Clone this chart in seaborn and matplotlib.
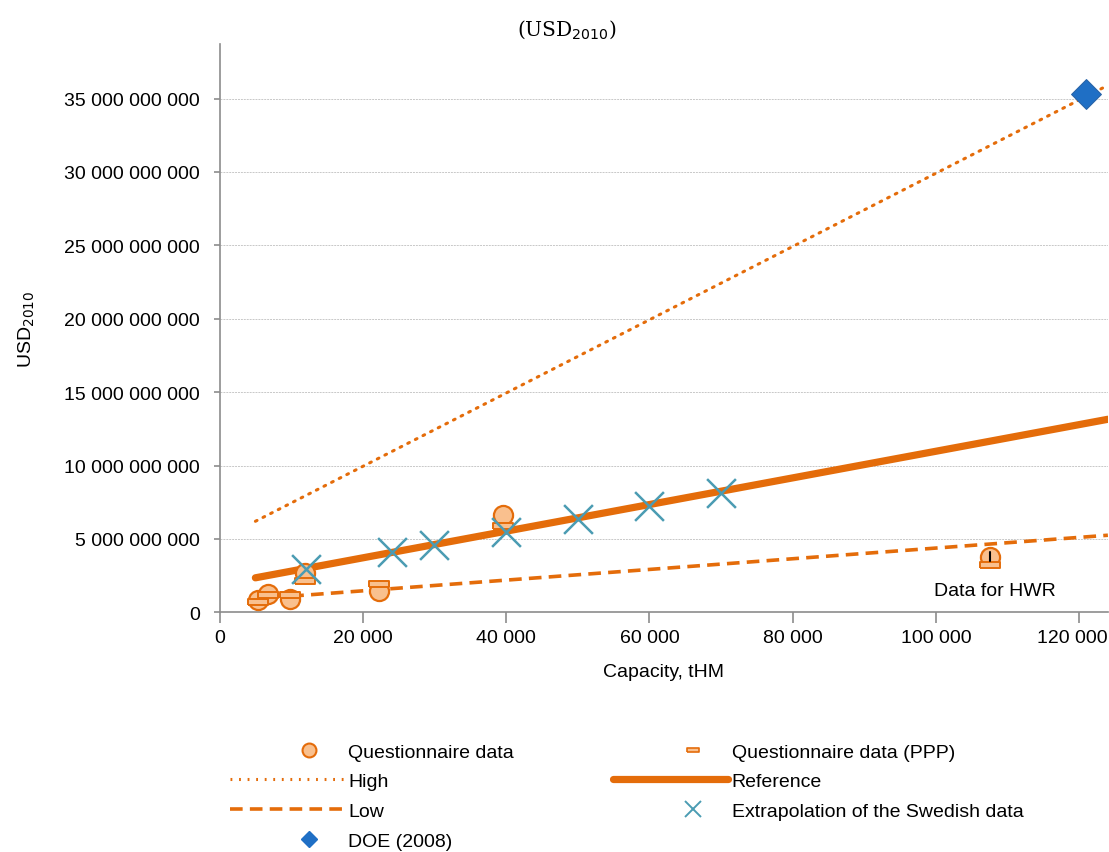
import matplotlib
matplotlib.use("Agg")
import matplotlib.pyplot as plt
import matplotlib.ticker as mticker
import matplotlib.transforms as mtransforms
from matplotlib.lines import Line2D
from matplotlib.legend_handler import HandlerLine2D
import numpy as np
import pandas as pd
import seaborn as sns

# ---- data (capacity in tHM, cost in USD 2010) ----
quest_x = [5300, 6700, 9800, 11900, 22200, 39500, 107500]
quest_y = [0.82e9, 1.25e9, 0.90e9, 2.70e9, 1.45e9, 6.60e9, 3.80e9]

ppp_x = [5300, 6700, 9800, 11900, 22200, 39500, 107500]
ppp_y = [0.70e9, 1.20e9, 1.20e9, 2.15e9, 1.95e9, 5.85e9, 3.20e9]

swedish_x = [12000, 24000, 30000, 40000, 50000, 60000, 70000]
swedish_y = [2.93e9, 4.10e9, 4.60e9, 5.45e9, 6.35e9, 7.25e9, 8.15e9]

doe_x = [121000]
doe_y = [35.3e9]

high_x = [5000, 124000]
high_y = [6.2e9, 35.9e9]

ref_x = [5000, 124000]
ref_y = [2.35e9, 13.15e9]

low_x = [10000, 124000]
low_y = [1.10e9, 5.25e9]

hwr_x = 107500
hwr_y = 3.80e9

x_ticks = [0, 20000, 40000, 60000, 80000, 100000, 120000]
y_ticks = [0, 5e9, 10e9, 15e9, 20e9, 25e9, 30e9, 35e9]

ORANGE = "#e46c0a"
LIGHT = "#f9c08e"
TEAL = "#4b9cb3"
BLUE = "#1f6fc5"
FS = 14

sns.set_theme(style="white")
plt.rcParams["font.family"] = ["Liberation Sans", "DejaVu Sans"]
plt.rcParams["text.color"] = "black"
plt.rcParams["axes.labelcolor"] = "black"

fig = plt.figure(figsize=(11.09, 8.53), dpi=100)
ax = fig.add_axes([0.198, 0.281, 0.801, 0.666])

sns.lineplot(x=high_x, y=high_y, ax=ax, color=ORANGE, lw=2.2,
             linestyle=(0, (0.6, 2.2)), dash_capstyle="round", zorder=2)
sns.lineplot(x=low_x, y=low_y, ax=ax, color=ORANGE, lw=2.6,
             linestyle=(0, (3.5, 2.0)), zorder=2)
sns.lineplot(x=ref_x, y=ref_y, ax=ax, color=ORANGE, lw=5.2,
             solid_capstyle="round", zorder=2)

ppp_marker = [(-1, -0.35), (1, -0.35), (1, 0.35), (-1, 0.35), (-1, -0.35)]

sns.scatterplot(x=quest_x, y=quest_y, ax=ax, s=190, color=LIGHT,
                edgecolor=ORANGE, linewidth=1.6, zorder=3)
sns.scatterplot(x=ppp_x, y=ppp_y, ax=ax, s=190, marker=ppp_marker,
                color=LIGHT, edgecolor=ORANGE, linewidth=1.4, zorder=3)
sns.scatterplot(x=swedish_x, y=swedish_y, ax=ax, s=430, marker="x",
                color=TEAL, linewidth=1.8, zorder=4)
sns.scatterplot(x=doe_x, y=doe_y, ax=ax, s=230, marker="D",
                color=BLUE, edgecolor="#2a64a8", linewidth=0.8, zorder=4)

# small range bar on the HWR point
ax.plot([hwr_x, hwr_x], [hwr_y - 0.32e9, hwr_y + 0.32e9], color="black",
        lw=1.5, zorder=5)
ax.text(hwr_x + 700, 1.5e9, "Data for HWR", ha="center", va="center",
        fontsize=FS, color="black")

ax.set_xlim(0, 124000)
ax.set_ylim(0, 38.7e9)
ax.set_xticks(x_ticks)
ax.set_yticks(y_ticks)

def spaced(v, _pos=None):
    return f"{int(round(v)):,}".replace(",", " ")

ax.xaxis.set_major_formatter(mticker.FuncFormatter(spaced))
ax.yaxis.set_major_formatter(mticker.FuncFormatter(spaced))
ax.tick_params(axis="both", labelsize=FS, labelcolor="black")
ax.tick_params(axis="x", length=8, width=1.2, color="#8c8c8c", direction="out",
               bottom=True, pad=4)
ax.tick_params(axis="y", length=4, width=1.2, color="#8c8c8c", direction="out",
               left=True, pad=10)

# keep the last x label inside the figure edge
fig.canvas.draw()
last = ax.get_xticklabels()[-1]
last.set_transform(last.get_transform() +
                   mtransforms.ScaledTranslation(-5 / 72, 0, fig.dpi_scale_trans))

ax.grid(axis="y", color="#c8c8c8", linestyle=(0, (2, 1)), lw=0.7)
ax.grid(axis="x", visible=False)
for side in ("top", "right"):
    ax.spines[side].set_visible(False)
for side in ("left", "bottom"):
    ax.spines[side].set_color("#8c8c8c")
    ax.spines[side].set_linewidth(1.2)

ax.set_xlabel("Capacity, tHM", fontsize=FS, labelpad=12)
ax.set_ylabel("USD$_{2010}$", fontsize=FS, labelpad=20)

fig.text(0.511, 0.965, "(USD$_{2010}$)", ha="center", va="center",
         fontsize=14.5, family="DejaVu Serif")


class ShiftedMarker(HandlerLine2D):
    """Marker-only legend handle drawn towards the right end of its box."""

    def __init__(self, shift, **kw):
        super().__init__(**kw)
        self.shift = shift

    def create_artists(self, legend, orig_handle, xdescent, ydescent,
                       width, height, fontsize, trans):
        return super().create_artists(legend, orig_handle, xdescent - self.shift,
                                      ydescent, width, height, fontsize, trans)


h_circle = Line2D([], [], ls="none", marker="o", ms=10, mfc=LIGHT, mec=ORANGE, mew=1.5)
h_high = Line2D([], [], color=ORANGE, lw=2.2, ls=(0, (0.6, 2.2)))
h_low = Line2D([], [], color=ORANGE, lw=2.6, ls=(0, (3.5, 2.0)))
h_doe = Line2D([], [], ls="none", marker="D", ms=8, color=BLUE)
h_ppp = Line2D([], [], ls="none", marker=ppp_marker, ms=9, mfc=LIGHT, mec=ORANGE, mew=1.2)
h_ref = Line2D([], [], color=ORANGE, lw=5.2, solid_capstyle="round")
h_swe = Line2D([], [], ls="none", marker="x", ms=11, color=TEAL, mew=1.4)

handles = [h_circle, h_high, h_low, h_doe, h_ppp, h_ref, h_swe]
labels = ["Questionnaire data", "High", "Low", "DOE (2008)",
          "Questionnaire data (PPP)", "Reference", "Extrapolation of the Swedish data"]
shift = ShiftedMarker(16)
hmap = {h_circle: shift, h_doe: shift, h_ppp: shift, h_swe: shift}

fig.legend(handles, labels, loc="upper left", bbox_to_anchor=(0.2, 0.137),
           ncol=2, frameon=False, fontsize=FS, handlelength=5.9,
           handletextpad=0.2, columnspacing=5.1, labelspacing=0.62,
           borderaxespad=0, handler_map=hmap)

fig.savefig("out.png", dpi=100)
